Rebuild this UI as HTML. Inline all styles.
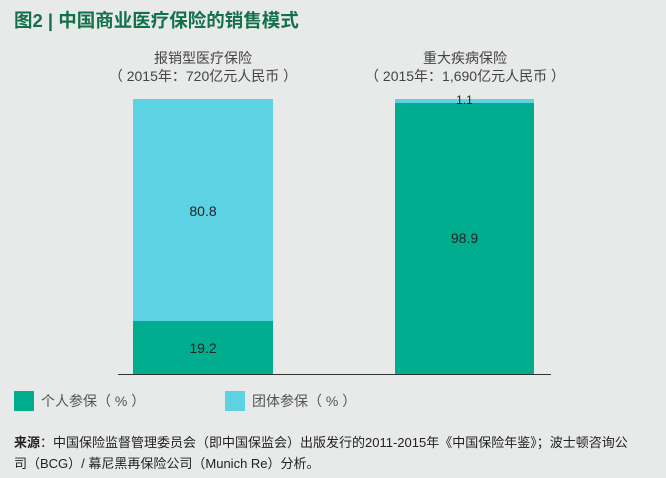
<!DOCTYPE html>
<html><head><meta charset="utf-8"><style>
body{margin:0;width:666px;height:478px;background:#e8e9e9;position:relative;overflow:hidden;font-family:"Liberation Sans","Noto Sans CJK SC",sans-serif;color:#333}
div{position:absolute}
.t{left:14px;top:7px;font-size:18.5px;font-weight:bold;color:#12704c}
.c{text-align:center;font-size:14px;color:#444;line-height:18px}
.lab{text-align:center;font-size:14px;color:#222}
</style></head><body>
<div class="t">图2 | 中国商业医疗保险的销售模式</div>
<div class="c" style="left:93px;width:220px;top:49px">报销型医疗保险<br>（ 2015年：720亿元人民币 ）</div>
<div class="c" style="left:355px;width:220px;top:49px">重大疾病保险<br>（ 2015年：1,690亿元人民币 ）</div>
<div style="left:133px;top:99px;width:140px;height:222px;background:#5dd2e3"></div>
<div style="left:133px;top:321px;width:140px;height:53px;background:#00ad8f"></div>
<div style="left:395px;top:99px;width:139px;height:4px;background:#5dd2e3"></div>
<div style="left:395px;top:103px;width:139px;height:271px;background:#00ad8f"></div>
<div style="left:118px;top:374px;width:433px;height:1px;background:#333"></div>
<div class="lab" style="left:133px;width:140px;top:203px">80.8</div>
<div class="lab" style="left:133px;width:140px;top:340px">19.2</div>
<div class="lab" style="left:395px;width:139px;top:93px;font-size:12px">1.1</div>
<div class="lab" style="left:395px;width:139px;top:230px">98.9</div>
<div style="left:14px;top:391px;width:20px;height:20px;background:#00ad8f"></div>
<div style="left:41px;top:391px;font-size:14px;color:#555">个人参保（ % ）</div>
<div style="left:225px;top:391px;width:20px;height:20px;background:#5dd2e3"></div>
<div style="left:252px;top:391px;font-size:14px;color:#555">团体参保（ % ）</div>
<div style="left:14px;top:432px;font-size:13px;line-height:21px;color:#222;width:650px"><b>来源</b>：中国保险监督管理委员会（即中国保监会）出版发行的2011-2015年《中国保险年鉴》；波士顿咨询公<br>司（BCG）/ 幕尼黑再保险公司（Munich Re）分析。</div>
</body></html>
